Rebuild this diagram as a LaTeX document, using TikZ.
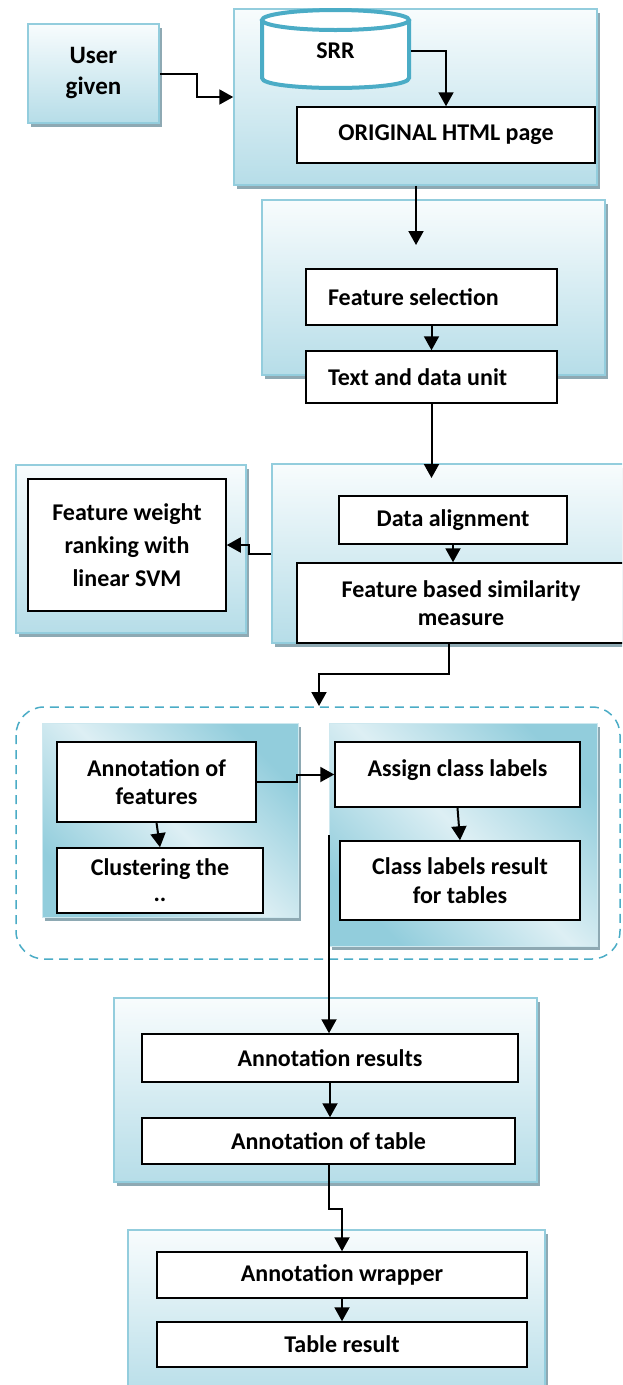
\documentclass[tikz,border=0pt]{standalone}
\usepackage{fontspec}
\setmainfont{Carlito}
\usepackage{tikz}
\usetikzlibrary{positioning,arrows.meta,shadows}
\definecolor{panelline}{HTML}{93CDDD}
\definecolor{paneltop}{HTML}{F8FCFD}
\definecolor{panelbot}{HTML}{B6DDE8}
\definecolor{paneldark}{HTML}{92CDDC}
\definecolor{panellight}{HTML}{DDEFF4}
\definecolor{shadowgray}{HTML}{8EA9B3}
\definecolor{dbline}{HTML}{4BACC6}
\tikzset{
panel/.style={draw=panelline, line width=1.5pt, top color=paneltop, bottom color=panelbot, align=center, inner sep=0pt,
  drop shadow={shadow xshift=3pt, shadow yshift=-4pt, fill=shadowgray, opacity=1}},
grouppanel/.style={draw=white!55!paneldark, line width=1pt, top color=paneldark, bottom color=paneldark, middle color=panellight, shading angle=-45, inner sep=0pt,
  drop shadow={shadow xshift=3pt, shadow yshift=-4pt, fill=shadowgray, opacity=1}},
procbox/.style={draw=black, line width=1.5pt, fill=white, align=center, inner sep=0pt},
flow/.style={line width=2pt, -{Triangle[length=14pt,width=15pt]}},
cyl/.style={draw=dbline, line width=4pt, fill=white},
grpline/.style={draw=dbline, line width=1.5pt, dash pattern=on 9pt off 6pt, rounded corners=28pt},
every node/.style={font=\bfseries\fontsize{24}{29}\selectfont}
}
\begin{document}
\begin{tikzpicture}[x=1pt, y=-1pt]
  \useasboundingbox (0,0) rectangle (622,1385);
  \clip (0,0) rectangle (622,1385);

  \node[panel, minimum width=131, minimum height=99, font=\bfseries\fontsize{25}{31}\selectfont] (user) at (93.5,73.5) {User\\given};
  \node[panel, minimum width=363, minimum height=176] (toppanel) at (415.5,97) {};
  \node[panel, minimum width=343, minimum height=175] (panel2) at (433.5,287.5) {};
  \node[panel, minimum width=230, minimum height=168] (fwpanel) at (131,549) {};
  \node[panel, minimum width=368, minimum height=179] (panel3) at (456,553.5) {};
  \node[grouppanel, minimum width=256, minimum height=194] (grpleft) at (170,820) {};
  \node[grouppanel, minimum width=268, minimum height=223] (grpright) at (463,834.5) {};
  \node[panel, minimum width=423, minimum height=184] (panel4) at (325.5,1090) {};
  \node[panel, minimum width=417, minimum height=170] (panel5) at (336.5,1315) {};
  \draw[grpline] (16,707) rectangle (620,959);

  \filldraw[cyl] (262,20) -- (262,78) .. controls (262,91.3) and (409,91.3) .. (409,78) -- (409,20);
  \filldraw[cyl] (335.5,20) ellipse [x radius=73.5, y radius=10];
  \node[minimum width=151, minimum height=82, inner sep=0pt] (srr) at (335.5,51) {SRR};

  \node[procbox, minimum width=298, minimum height=56] (html) at (446,135) {ORIGINAL HTML page};
  \node[procbox, text width=207, inner xsep=22, minimum height=56, align=flush left] (fs) at (431.5,297) {Feature selection};
  \node[procbox, text width=207, inner xsep=22, minimum height=52, align=flush left] (tdu) at (431.5,377) {Text and data unit};
  \node[procbox, minimum width=198, minimum height=132, font=\bfseries\fontsize{24}{33}\selectfont] (fw) at (127,545) {Feature weight\\ranking with\\linear SVM};
  \node[procbox, minimum width=228, minimum height=48] (da) at (453,520) {Data alignment};
  \node[procbox, minimum width=328, minimum height=80, font=\bfseries\fontsize{24}{28}\selectfont] (fbs) at (461,603) {Feature based similarity\\measure};
  \node[procbox, minimum width=199, minimum height=80, font=\bfseries\fontsize{24}{28}\selectfont] (af) at (156.5,782) {Annotation of\\features};
  \node[procbox, minimum width=206, minimum height=65] (cl) at (160,880.5) {Clustering the\\[-3pt]..};
  \node[procbox, minimum width=245, minimum height=65, text depth=12pt] (acl) at (457.5,774.5) {Assign class labels};
  \node[procbox, minimum width=240, minimum height=79] (clr) at (460,880.5) {Class labels result\\for tables};
  \node[procbox, minimum width=376, minimum height=48] (ar) at (330,1058) {Annotation results};
  \node[procbox, minimum width=373, minimum height=46] (at) at (328.5,1141) {Annotation of table};
  \node[procbox, minimum width=370, minimum height=46] (aw) at (342,1275) {Annotation wrapper};
  \node[procbox, minimum width=370, minimum height=45] (tr) at (342,1344.5) {Table result};

  \coordinate (p2in) at (416,245);
  \coordinate (p3in) at (432,478);
  \coordinate (grpin) at (319,706);
  \coordinate (lnstart) at (329,835);

  \draw[flow] (user.east) -- ++(37,0) |- (toppanel.west);
  \draw[flow] (srr.east) -| (html.north);
  \draw[flow] (toppanel.south -| p2in) -- (p2in);
  \draw[flow] (fs.south) -- (tdu.north);
  \draw[flow] (tdu.south) -- (tdu.south |- p3in);
  \draw[flow] (panel3.west) -- ++(-22,0) |- (fw.east);
  \draw[flow] (da.south) -- (da.south |- fbs.north);
  \draw[flow] ([xshift=-12pt]fbs.south) -- ++(0,30) -| (grpin);
  \draw[flow] (af.east) -- ++(40,0) |- (acl.west);
  \draw[flow] (af.south) -- (cl.north);
  \draw[flow] (acl.south) -- (clr.north);
  \draw[flow] (lnstart) -- (lnstart |- ar.north);
  \draw[flow] (ar.south) -- (ar.south |- at.north);
  \draw[flow] (at.south) -- ++(0,44) -| (aw.north);
  \draw[flow] (aw.south) -- (tr.north);
\end{tikzpicture}
\end{document}
